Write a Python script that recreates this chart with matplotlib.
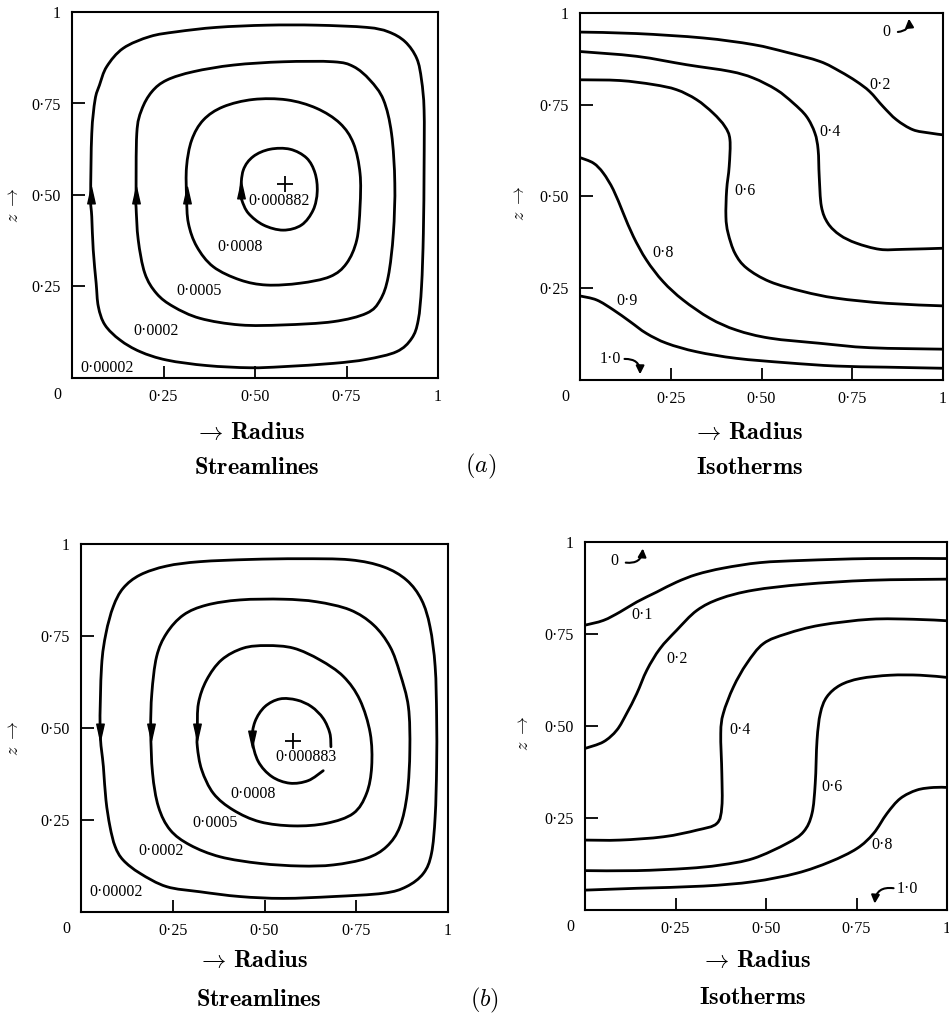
import matplotlib
matplotlib.use('Agg')
import matplotlib.pyplot as plt
from matplotlib.path import Path
from matplotlib.patches import PathPatch

plt.rcParams['font.family'] = ['Liberation Serif', 'DejaVu Serif']
plt.rcParams['mathtext.fontset'] = 'cm'

# ---------------- data: (a) streamlines (closed curves, r, z) ----------------
A_S1_r = [0.051, 0.054, 0.063, 0.075, 0.095, 0.140, 0.213, 0.286, 0.395, 0.532, 0.668, 0.805, 0.864, 0.910, 0.942, 0.955, 0.962, 0.962, 0.960, 0.955, 0.946, 0.928, 0.887, 0.805, 0.714, 0.577, 0.486, 0.368, 0.259, 0.186, 0.131, 0.090, 0.072, 0.066, 0.058, 0.054]
A_S1_z = [0.495, 0.668, 0.760, 0.800, 0.851, 0.901, 0.933, 0.946, 0.958, 0.964, 0.964, 0.958, 0.946, 0.919, 0.873, 0.814, 0.732, 0.577, 0.395, 0.250, 0.158, 0.108, 0.072, 0.051, 0.040, 0.031, 0.028, 0.034, 0.049, 0.072, 0.104, 0.145, 0.195, 0.259, 0.350, 0.441]
A_S2_r = [0.175, 0.177, 0.190, 0.218, 0.259, 0.332, 0.441, 0.577, 0.714, 0.769, 0.814, 0.851, 0.873, 0.882, 0.878, 0.864, 0.842, 0.805, 0.714, 0.577, 0.459, 0.350, 0.277, 0.231, 0.199, 0.181, 0.175]
A_S2_z = [0.495, 0.668, 0.732, 0.782, 0.814, 0.837, 0.855, 0.864, 0.864, 0.851, 0.814, 0.760, 0.668, 0.532, 0.395, 0.277, 0.213, 0.177, 0.154, 0.145, 0.145, 0.163, 0.195, 0.231, 0.286, 0.377, 0.468]
A_S3_r = [0.313, 0.313, 0.327, 0.359, 0.413, 0.495, 0.587, 0.668, 0.732, 0.769, 0.787, 0.787, 0.778, 0.750, 0.705, 0.623, 0.532, 0.459, 0.386, 0.341, 0.318]
A_S3_z = [0.495, 0.577, 0.650, 0.705, 0.741, 0.761, 0.760, 0.737, 0.696, 0.641, 0.559, 0.468, 0.377, 0.313, 0.277, 0.259, 0.254, 0.268, 0.304, 0.359, 0.423]
A_S4_r = [0.461, 0.468, 0.495, 0.541, 0.596, 0.641, 0.664, 0.670, 0.659, 0.627, 0.577, 0.523, 0.482, 0.464]
A_S4_z = [0.509, 0.568, 0.605, 0.625, 0.625, 0.601, 0.560, 0.509, 0.459, 0.418, 0.404, 0.418, 0.450, 0.486]
A_S_labels = ['0·000882', '0·0008', '0·0005', '0·0002', '0·00002']
A_S_label_r = [0.566, 0.459, 0.348, 0.230, 0.097]
A_S_label_z = [0.484, 0.357, 0.238, 0.128, 0.028]
A_S_arrow_r = [0.051, 0.175, 0.313, 0.461]
A_S_arrow_z = [0.500, 0.500, 0.500, 0.515]
A_S_centre = (0.582, 0.530)

# ---------------- (a) isotherms ----------------
A_T02_r = [0.000, 0.156, 0.339, 0.477, 0.569, 0.661, 0.716, 0.761, 0.798, 0.835, 0.872, 0.917, 0.963, 1.000]
A_T02_z = [0.948, 0.944, 0.932, 0.914, 0.893, 0.868, 0.841, 0.814, 0.786, 0.745, 0.709, 0.682, 0.673, 0.668]
A_T04_r = [0.000, 0.156, 0.294, 0.413, 0.477, 0.541, 0.587, 0.624, 0.647, 0.656, 0.659, 0.665, 0.683, 0.716, 0.761, 0.826, 0.890, 1.000]
A_T04_z = [0.895, 0.882, 0.859, 0.841, 0.823, 0.791, 0.755, 0.718, 0.673, 0.627, 0.555, 0.473, 0.427, 0.395, 0.373, 0.356, 0.356, 0.359]
A_T06_r = [0.000, 0.110, 0.202, 0.266, 0.321, 0.367, 0.399, 0.413, 0.411, 0.404, 0.402, 0.408, 0.427, 0.459, 0.523, 0.615, 0.706, 0.844, 1.000]
A_T06_z = [0.818, 0.816, 0.805, 0.791, 0.764, 0.727, 0.691, 0.655, 0.582, 0.518, 0.445, 0.400, 0.345, 0.305, 0.268, 0.241, 0.223, 0.209, 0.202]
A_T08_r = [0.000, 0.037, 0.064, 0.092, 0.119, 0.147, 0.183, 0.229, 0.284, 0.358, 0.431, 0.523, 0.661, 0.798, 1.000]
A_T08_z = [0.606, 0.591, 0.564, 0.518, 0.455, 0.391, 0.327, 0.268, 0.218, 0.168, 0.136, 0.114, 0.100, 0.088, 0.084]
A_T09_r = [0.000, 0.046, 0.092, 0.138, 0.183, 0.239, 0.321, 0.431, 0.569, 0.706, 0.844, 1.000]
A_T09_z = [0.229, 0.218, 0.191, 0.159, 0.127, 0.100, 0.077, 0.059, 0.047, 0.038, 0.035, 0.032]
A_T_labels = ['0·2', '0·4', '0·6', '0·8', '0·9']
A_T_label_r = [0.826, 0.688, 0.454, 0.228, 0.131]
A_T_label_z = [0.805, 0.675, 0.514, 0.345, 0.214]

# ---------------- (b) streamlines ----------------
B_S1_r = [0.052, 0.056, 0.068, 0.088, 0.115, 0.161, 0.233, 0.324, 0.460, 0.597, 0.733, 0.824, 0.887, 0.928, 0.951, 0.965, 0.969, 0.969, 0.965, 0.955, 0.933, 0.887, 0.824, 0.688, 0.551, 0.433, 0.324, 0.233, 0.161, 0.115, 0.093, 0.079, 0.068, 0.061]
B_S1_z = [0.495, 0.667, 0.757, 0.830, 0.880, 0.916, 0.940, 0.952, 0.958, 0.960, 0.957, 0.938, 0.902, 0.848, 0.775, 0.667, 0.531, 0.395, 0.259, 0.159, 0.105, 0.069, 0.051, 0.042, 0.037, 0.042, 0.055, 0.069, 0.105, 0.141, 0.178, 0.232, 0.304, 0.395]
B_S2_r = [0.190, 0.193, 0.206, 0.233, 0.279, 0.342, 0.433, 0.551, 0.642, 0.733, 0.797, 0.842, 0.869, 0.892, 0.896, 0.889, 0.869, 0.833, 0.778, 0.688, 0.597, 0.488, 0.379, 0.297, 0.243, 0.211, 0.195]
B_S2_z = [0.495, 0.594, 0.694, 0.757, 0.807, 0.834, 0.848, 0.850, 0.843, 0.821, 0.780, 0.721, 0.649, 0.558, 0.440, 0.322, 0.232, 0.178, 0.146, 0.128, 0.125, 0.132, 0.150, 0.182, 0.223, 0.286, 0.377]
B_S3_r = [0.317, 0.320, 0.342, 0.383, 0.442, 0.506, 0.579, 0.651, 0.715, 0.760, 0.788, 0.792, 0.778, 0.742, 0.669, 0.579, 0.488, 0.415, 0.361, 0.329, 0.317]
B_S3_z = [0.495, 0.567, 0.630, 0.685, 0.717, 0.724, 0.717, 0.685, 0.640, 0.576, 0.486, 0.395, 0.322, 0.268, 0.241, 0.234, 0.245, 0.277, 0.322, 0.386, 0.449]
B_S4_r = [0.660, 0.619, 0.569, 0.520, 0.483, 0.467, 0.474, 0.501, 0.542, 0.588, 0.628, 0.660, 0.678, 0.681]
B_S4_z = [0.384, 0.357, 0.350, 0.368, 0.409, 0.467, 0.517, 0.558, 0.579, 0.576, 0.558, 0.526, 0.486, 0.449]
B_S_labels = ['0·000883', '0·0008', '0·0005', '0·0002', '0·00002']
B_S_label_r = [0.613, 0.470, 0.365, 0.218, 0.095]
B_S_label_z = [0.420, 0.322, 0.243, 0.166, 0.053]
B_S_arrow_r = [0.052, 0.190, 0.317, 0.467]
B_S_arrow_z = [0.490, 0.490, 0.490, 0.470]
B_S_centre = (0.577, 0.466)

# ---------------- (b) isotherms ----------------
B_T01_r = [0.000, 0.051, 0.097, 0.143, 0.198, 0.253, 0.309, 0.382, 0.484, 0.604, 0.788, 1.000]
B_T01_z = [0.774, 0.787, 0.810, 0.837, 0.864, 0.891, 0.912, 0.929, 0.944, 0.950, 0.955, 0.955]
B_T02_r = [0.000, 0.051, 0.088, 0.115, 0.143, 0.171, 0.207, 0.253, 0.309, 0.373, 0.465, 0.604, 0.788, 1.000]
B_T02_z = [0.439, 0.457, 0.489, 0.534, 0.588, 0.652, 0.710, 0.760, 0.814, 0.846, 0.869, 0.885, 0.896, 0.899]
B_T04_r = [0.000, 0.097, 0.217, 0.309, 0.364, 0.378, 0.378, 0.375, 0.382, 0.410, 0.447, 0.493, 0.558, 0.650, 0.788, 0.908, 1.000]
B_T04_z = [0.190, 0.190, 0.199, 0.217, 0.235, 0.281, 0.371, 0.480, 0.534, 0.606, 0.670, 0.724, 0.751, 0.774, 0.790, 0.790, 0.786]
B_T06_r = [0.000, 0.143, 0.281, 0.373, 0.465, 0.558, 0.604, 0.627, 0.636, 0.641, 0.650, 0.668, 0.705, 0.760, 0.843, 0.926, 1.000]
B_T06_z = [0.107, 0.107, 0.113, 0.122, 0.140, 0.181, 0.213, 0.262, 0.344, 0.462, 0.534, 0.579, 0.611, 0.629, 0.638, 0.638, 0.632]
B_T08_r = [0.000, 0.143, 0.327, 0.465, 0.585, 0.677, 0.751, 0.797, 0.834, 0.871, 0.917, 0.963, 1.000]
B_T08_z = [0.054, 0.059, 0.065, 0.077, 0.100, 0.131, 0.167, 0.208, 0.262, 0.303, 0.326, 0.333, 0.333]
B_T_labels = ['0·1', '0·2', '0·4', '0·6', '0·8']
B_T_label_r = [0.157, 0.253, 0.429, 0.682, 0.820]
B_T_label_z = [0.801, 0.683, 0.490, 0.335, 0.176]

TICKS = [0.25, 0.5, 0.75, 1.0]
TICK_LABELS = ['0·25', '0·50', '0·75', '1']

# ---------------- drawing ----------------
W, H = 949, 1013
fig = plt.figure(figsize=(W / 100, H / 100), dpi=100)


def rect(l, t, r, b):
    return [l / W, 1 - b / H, (r - l) / W, (b - t) / H]


LW = 2.0
NUMSIZE = 11.5


def setup(ax):
    ax.set_xlim(0, 1)
    ax.set_ylim(0, 1)
    ax.set_xticks(TICKS)
    ax.set_xticklabels(TICK_LABELS)
    ax.set_yticks(TICKS)
    ax.set_yticklabels(TICK_LABELS)
    ax.tick_params(direction='in', length=9, width=1.3, labelsize=NUMSIZE, pad=8)
    for s in ax.spines.values():
        s.set_linewidth(1.5)
    ax.text(-0.04, -0.047, '0', transform=ax.transAxes, ha='center', va='center', fontsize=NUMSIZE)


def curve(ax, r, z, closed=False):
    # smooth rendering through the read points (Catmull-Rom drawn as cubic Bezier path)
    pts = list(zip(r, z))
    n = len(pts)

    def p(i):
        if closed:
            return pts[i % n]
        return pts[min(max(i, 0), n - 1)]

    verts = [pts[0]]
    codes = [Path.MOVETO]
    segs = n if closed else n - 1
    for i in range(segs):
        p0, p1, p2, p3 = p(i - 1), p(i), p(i + 1), p(i + 2)
        c1 = (p1[0] + (p2[0] - p0[0]) / 6, p1[1] + (p2[1] - p0[1]) / 6)
        c2 = (p2[0] - (p3[0] - p1[0]) / 6, p2[1] - (p3[1] - p1[1]) / 6)
        verts += [c1, c2, p2]
        codes += [Path.CURVE4] * 3
    ax.add_patch(PathPatch(Path(verts, codes), fill=False, ec='black', lw=LW,
                           joinstyle='round', capstyle='round'))


up_marker = Path([(-0.45, -1.0), (0.45, -1.0), (0.0, 1.0), (-0.45, -1.0)],
                 [Path.MOVETO, Path.LINETO, Path.LINETO, Path.CLOSEPOLY])
down_marker = Path([(-0.45, 1.0), (0.45, 1.0), (0.0, -1.0), (-0.45, 1.0)],
                   [Path.MOVETO, Path.LINETO, Path.LINETO, Path.CLOSEPOLY])

ARROWKW = dict(arrowstyle='-|>', color='black', lw=1.5, mutation_scale=12)

# (a) streamlines
ax1 = fig.add_axes(rect(72, 12, 438, 378))
setup(ax1)
for r, z in [(A_S1_r, A_S1_z), (A_S2_r, A_S2_z), (A_S3_r, A_S3_z), (A_S4_r, A_S4_z)]:
    curve(ax1, r, z, closed=True)
ax1.plot(A_S_arrow_r, A_S_arrow_z, ls='none', marker=up_marker, ms=12, color='black')
for t, r, z in zip(A_S_labels, A_S_label_r, A_S_label_z):
    ax1.text(r, z, t, ha='center', va='center', fontsize=NUMSIZE)
ax1.plot([A_S_centre[0]], [A_S_centre[1]], marker='+', ms=11, mew=1.3, color='black')

# (a) isotherms
ax2 = fig.add_axes(rect(580, 13, 943, 380))
setup(ax2)
for r, z in [(A_T02_r, A_T02_z), (A_T04_r, A_T04_z), (A_T06_r, A_T06_z), (A_T08_r, A_T08_z), (A_T09_r, A_T09_z)]:
    curve(ax2, r, z)
for t, r, z in zip(A_T_labels, A_T_label_r, A_T_label_z):
    ax2.text(r, z, t, ha='center', va='center', fontsize=NUMSIZE)
ax2.annotate('', xy=(0.905, 0.992), xytext=(0.868, 0.948),
             arrowprops=dict(connectionstyle='arc3,rad=0.6', **ARROWKW))
ax2.text(0.845, 0.948, '0', ha='center', va='center', fontsize=NUMSIZE)
ax2.annotate('', xy=(0.165, 0.008), xytext=(0.115, 0.057),
             arrowprops=dict(connectionstyle='arc3,rad=-0.6', **ARROWKW))
ax2.text(0.083, 0.058, '1·0', ha='center', va='center', fontsize=NUMSIZE)

# (b) streamlines
ax3 = fig.add_axes(rect(81, 544, 448, 912))
setup(ax3)
for r, z in [(B_S1_r, B_S1_z), (B_S2_r, B_S2_z), (B_S3_r, B_S3_z)]:
    curve(ax3, r, z, closed=True)
curve(ax3, B_S4_r, B_S4_z)
ax3.plot(B_S_arrow_r, B_S_arrow_z, ls='none', marker=down_marker, ms=12, color='black')
for t, r, z in zip(B_S_labels, B_S_label_r, B_S_label_z):
    ax3.text(r, z, t, ha='center', va='center', fontsize=NUMSIZE)
ax3.plot([B_S_centre[0]], [B_S_centre[1]], marker='+', ms=11, mew=1.3, color='black')

# (b) isotherms
ax4 = fig.add_axes(rect(585, 542, 947, 910))
setup(ax4)
for r, z in [(B_T01_r, B_T01_z), (B_T02_r, B_T02_z), (B_T04_r, B_T04_z), (B_T06_r, B_T06_z), (B_T08_r, B_T08_z)]:
    curve(ax4, r, z)
for t, r, z in zip(B_T_labels, B_T_label_r, B_T_label_z):
    ax4.text(r, z, t, ha='center', va='center', fontsize=NUMSIZE)
ax4.annotate('', xy=(0.16, 0.99), xytext=(0.105, 0.945),
             arrowprops=dict(connectionstyle='arc3,rad=0.6', **ARROWKW))
ax4.text(0.08, 0.948, '0', ha='center', va='center', fontsize=NUMSIZE)
ax4.annotate('', xy=(0.80, 0.01), xytext=(0.86, 0.058),
             arrowprops=dict(connectionstyle='arc3,rad=0.6', **ARROWKW))
ax4.text(0.862, 0.058, '1·0', ha='left', va='center', fontsize=NUMSIZE)

# captions


def ftext(x, y, s, **kw):
    fig.text(x / W, 1 - y / H, s, ha='center', va='center', **kw)


CAP = 17.5
for x, y in [(250, 433), (748, 433), (253, 961), (756, 961)]:
    ftext(x, y, r'$\rightarrow\,\mathbf{Radius}$', fontsize=CAP)
ftext(257, 468, r'$\mathbf{Streamlines}$', fontsize=CAP)
ftext(750, 468, r'$\mathbf{Isotherms}$', fontsize=CAP)
ftext(259, 1000, r'$\mathbf{Streamlines}$', fontsize=CAP)
ftext(753, 998, r'$\mathbf{Isotherms}$', fontsize=CAP)
ftext(481, 466, r'$(a)$', fontsize=CAP)
ftext(484, 1000, r'$(b)$', fontsize=CAP)
for x, y in [(13, 205), (520, 203), (13, 738), (523, 733)]:
    ftext(x, y, r'$z\ \rightarrow$', fontsize=13, rotation=90)

fig.savefig('out.png', dpi=100)
